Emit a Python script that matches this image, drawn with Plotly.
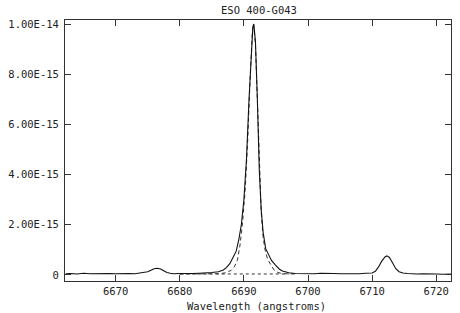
import plotly.graph_objects as go

# Observed spectrum (wavelength in angstroms, flux in units of 1e-15)
wave = [6662.2, 6663, 6664, 6665, 6666, 6667, 6668, 6669, 6670, 6671, 6672, 6673, 6674,
        6675, 6675.5, 6676, 6676.5, 6677, 6677.5, 6678, 6678.5, 6679, 6680, 6681, 6682,
        6683, 6684, 6685, 6686, 6686.8, 6687.3, 6687.8, 6688.3, 6688.8, 6689.2, 6689.6,
        6690.0, 6690.4, 6690.8, 6691.1, 6691.4, 6691.55, 6691.8, 6692.1, 6692.4, 6692.7,
        6693.0, 6693.4, 6693.8, 6694.3, 6694.9, 6695.5, 6696, 6697, 6698, 6699, 6700,
        6701, 6702, 6703, 6704, 6705, 6706, 6707, 6708, 6709, 6710, 6710.5, 6711, 6711.5,
        6712, 6712.3, 6712.7, 6713.2, 6713.7, 6714.2, 6714.8, 6715.5, 6716, 6717, 6718,
        6719, 6720, 6721, 6722.3]
flux = [0.05, 0.06, 0.04, 0.07, 0.05, 0.06, 0.04, 0.06, 0.05, 0.07, 0.06, 0.05, 0.08,
        0.13, 0.19, 0.25, 0.27, 0.24, 0.17, 0.10, 0.07, 0.05, 0.06, 0.05, 0.06,
        0.07, 0.08, 0.10, 0.13, 0.20, 0.30, 0.45, 0.70, 0.95, 1.40, 2.00,
        3.00, 4.60, 7.00, 8.80, 9.90, 10.0, 9.30, 7.00, 4.20, 2.60,
        1.70, 1.05, 0.85, 0.58, 0.40, 0.24, 0.16, 0.09, 0.06, 0.05, 0.06,
        0.05, 0.07, 0.05, 0.06, 0.05, 0.04, 0.06, 0.05, 0.07, 0.08, 0.15, 0.32, 0.55,
        0.72, 0.76, 0.70, 0.48, 0.25, 0.13, 0.08, 0.06, 0.05, 0.04, 0.05,
        0.03, 0.04, 0.03, 0.04]

# Gaussian fit (dashed)
fit_wave = [6680, 6684, 6686, 6687, 6688, 6688.5, 6689, 6689.4, 6689.8, 6690.2, 6690.6,
            6691.0, 6691.3, 6691.5, 6691.8, 6692.1, 6692.4, 6692.7, 6693.0, 6693.3, 6693.7,
            6694.2, 6694.7, 6695.3, 6696, 6698]
fit_flux = [0.04, 0.04, 0.05, 0.08, 0.18, 0.32, 0.60, 1.20, 2.10, 3.40, 5.40,
            8.00, 9.60, 10.0, 9.20, 7.00, 4.30, 2.50, 1.50, 1.00, 0.62,
            0.38, 0.20, 0.10, 0.05, 0.04]

# Continuum (dotted)
cont_wave = [6680, 6697]
cont_flux = [0.04, 0.04]

scale = 1e-15
y_tickvals = [0, 2e-15, 4e-15, 6e-15, 8e-15, 1e-14]
y_ticktext = ["0", "2.00E-15", "4.00E-15", "6.00E-15", "8.00E-15", "1.00E-14"]
x_tickvals = [6670, 6680, 6690, 6700, 6710, 6720]

title = "ESO 400-G043"
xlabel = "Wavelength (angstroms)"

font = dict(family="DejaVu Sans Mono", size=10.5, color="#222")

fig = go.Figure()
fig.add_trace(go.Scatter(x=cont_wave, y=[v * scale for v in cont_flux], mode="lines",
                         line=dict(color="#333", width=1, dash="dot"), hoverinfo="skip"))
fig.add_trace(go.Scatter(x=fit_wave, y=[v * scale for v in fit_flux], mode="lines",
                         line=dict(color="#333", width=1, dash="4px,3px"), hoverinfo="skip"))
fig.add_trace(go.Scatter(x=wave, y=[v * scale for v in flux], mode="lines",
                         line=dict(color="#111", width=1.1)))

axis_common = dict(showline=True, linecolor="#333", linewidth=1, mirror="ticks",
                   ticks="inside", ticklen=6, tickcolor="#333", tickwidth=1,
                   showgrid=False, zeroline=False, tickfont=font)

fig.update_layout(
    width=460, height=313,
    margin=dict(l=57, r=8, t=20, b=32, pad=0),
    paper_bgcolor="white", plot_bgcolor="white",
    showlegend=False,
    xaxis=dict(range=[6662.1, 6722.3], tickvals=x_tickvals, **axis_common),
    yaxis=dict(range=[-0.24e-15, 1.016e-14], tickvals=y_tickvals, ticktext=y_ticktext,
               ticklabelstandoff=3, **axis_common),
    annotations=[
        dict(text=title, xref="paper", yref="paper", x=0.503, y=1.038,
             showarrow=False, font=font, xanchor="center", yanchor="middle"),
        dict(text=xlabel, xref="paper", yref="paper", x=0.497, y=-0.095,
             showarrow=False, font=font, xanchor="center", yanchor="middle"),
    ],
)

fig.write_html("out.html")
